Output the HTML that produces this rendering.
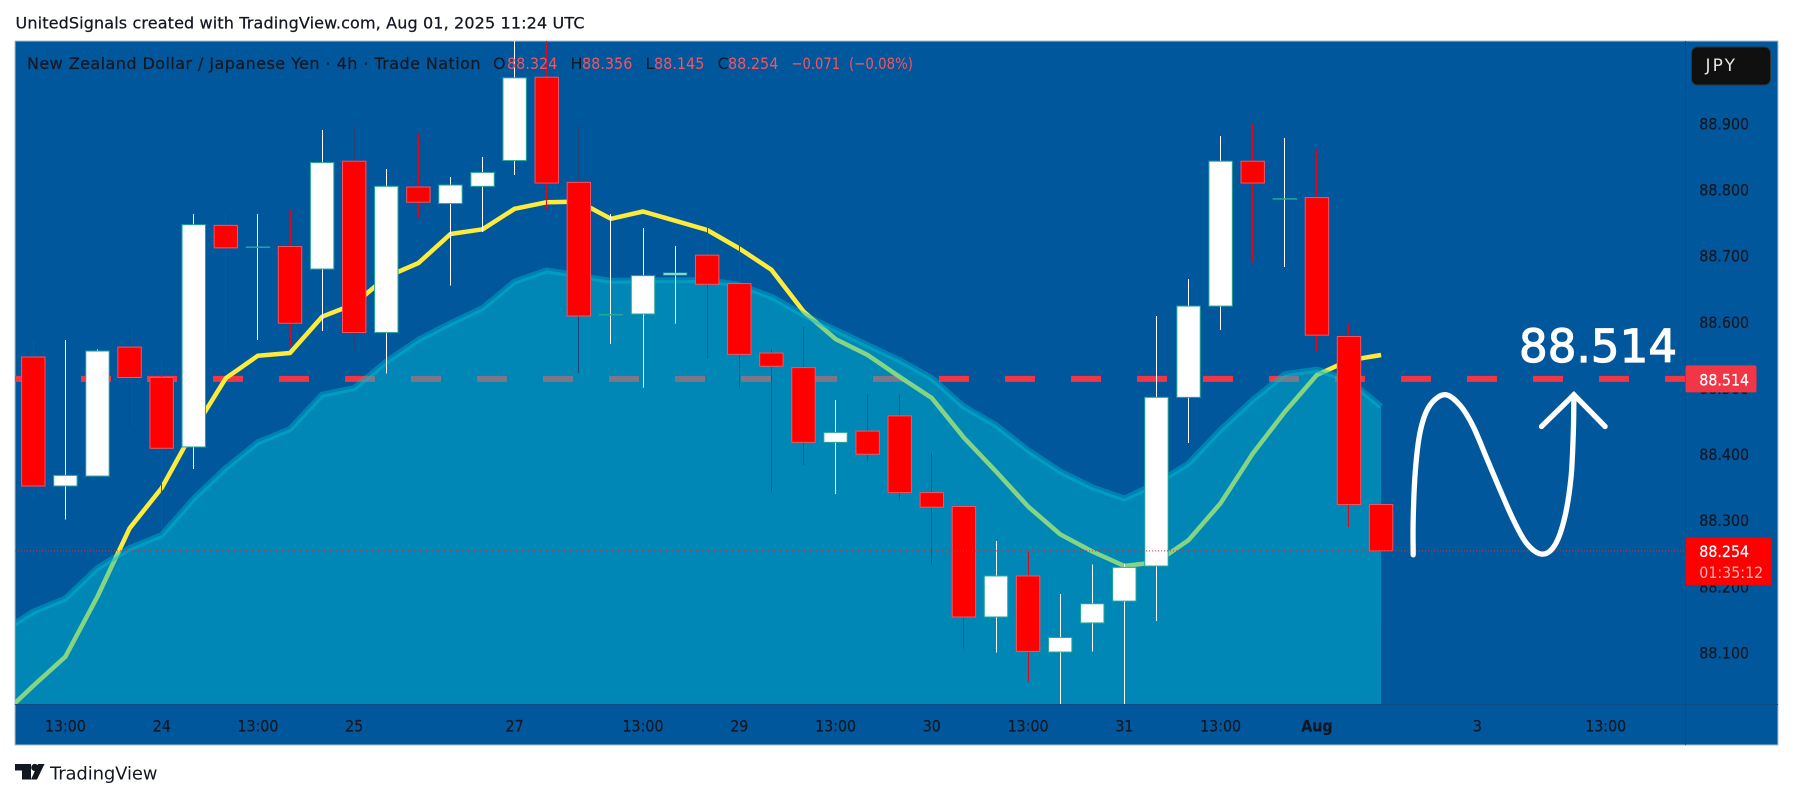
<!DOCTYPE html>
<html lang="en">
<head>
<meta charset="utf-8">
<title>NZD/JPY 4h chart</title>
<style>
html,body{margin:0;padding:0;background:#fff;width:1793px;height:799px;overflow:hidden}
svg{display:block}
text{font-family:"DejaVu Sans","Liberation Sans",sans-serif}
</style>
</head>
<body>
<svg id="chart" width="1793" height="799" viewBox="0 0 1793 799" xmlns="http://www.w3.org/2000/svg">
  <defs>
    <clipPath id="paneClip"><rect x="15" y="41" width="1670.5" height="663"/></clipPath>
  </defs>
  <rect x="0" y="0" width="1793" height="799" fill="#ffffff"/>
  <text x="15.5" y="28.5" font-size="16" fill="#131722" stroke="#131722" stroke-width="0.25" textLength="569" lengthAdjust="spacing">UnitedSignals created with TradingView.com, Aug 01, 2025 11:24 UTC</text>
  <rect x="15" y="41" width="1763" height="704" fill="#01579b" stroke="#aebfd2" stroke-width="1"/>
  <g id="priceLineLayer" clip-path="url(#paneClip)"></g>
  <g id="maLayer" clip-path="url(#paneClip)"></g>
  <g id="areaLayer" clip-path="url(#paneClip)"></g>
  <g id="candleLayer" clip-path="url(#paneClip)"></g>
  <g id="lastLineLayer" clip-path="url(#paneClip)"></g>
  <g id="drawingLayer" clip-path="url(#paneClip)"></g>
  <text id="targetText" x="1519" y="362" font-size="45" fill="#ffffff" stroke="#ffffff" stroke-width="1.2" textLength="158" lengthAdjust="spacing">88.514</text>

  <line x1="1685.5" y1="41" x2="1685.5" y2="745" stroke="#0e4a83" stroke-width="1"/>
  <line x1="15" y1="704.5" x2="1778" y2="704.5" stroke="#0e4a83" stroke-width="1"/>
  <g id="priceAxis"></g>
  <g id="timeAxis"></g>

  <g font-size="16">
    <text x="27" y="69" fill="#131722" stroke="#131722" stroke-width="0.2" textLength="453.5" lengthAdjust="spacing">New Zealand Dollar / Japanese Yen · 4h · Trade Nation</text>
    <text x="493" y="69" fill="#131722">O</text>
    <text transform="translate(507 69) scale(0.9 1)" fill="#f7525f">88.324</text>
    <text x="570.5" y="69" fill="#131722">H</text>
    <text transform="translate(582 69) scale(0.9 1)" fill="#f7525f">88.356</text>
    <text x="645.5" y="69" fill="#131722">L</text>
    <text transform="translate(654 69) scale(0.9 1)" fill="#f7525f">88.145</text>
    <text x="717.5" y="69" fill="#131722">C</text>
    <text transform="translate(728 69) scale(0.9 1)" fill="#f7525f">88.254</text>
    <text transform="translate(791.5 69) scale(0.82 1)" fill="#f7525f">−0.071</text>
    <text transform="translate(849 69) scale(0.835 1)" fill="#f7525f">(−0.08%)</text>
  </g>

  <g>
    <rect x="1691.5" y="47" width="79" height="38" rx="6" ry="6" fill="#101010" stroke="#2f3540" stroke-width="1"/>
    <text x="1705.5" y="71" font-size="17" fill="#e4e4e4" textLength="29.5" lengthAdjust="spacing">JPY</text>
  </g>

  <g id="priceTags"></g>

  <g>
    <path d="M15 764H31V779.5H22V770.5H15Z" fill="#131722"/>
    <circle cx="34.8" cy="767.5" r="3.6" fill="#131722"/>
    <path d="M38 764H44.5L37 779.5H31Z" fill="#131722"/>
    <text x="50" y="779.5" font-size="18" fill="#131722" textLength="107.5" lengthAdjust="spacing">TradingView</text>
  </g>
</svg>
<script>
// ---- Series data (prices) ----
const candleOpen  = [88.547,88.352,88.367,88.562,88.516,88.411,88.746,88.713,88.714,88.680,88.843,88.584,88.804,88.779,88.805,88.844,88.970,88.811,88.611,88.612,88.671,88.701,88.658,88.553,88.531,88.418,88.435,88.458,88.342,88.321,88.154,88.216,88.101,88.145,88.178,88.231,88.486,88.624,88.843,88.786,88.788,88.578,88.324];
const candleHigh  = [88.571,88.573,88.558,88.591,88.542,88.763,88.764,88.763,88.770,88.890,88.896,88.831,88.884,88.819,88.849,89.050,89.050,88.898,88.763,88.742,88.715,88.753,88.736,88.559,88.592,88.482,88.492,88.490,88.402,88.322,88.269,88.253,88.189,88.233,88.235,88.609,88.665,88.881,88.900,88.878,88.860,88.597,88.356];
const candleLow   = [88.332,88.301,88.367,88.442,88.287,88.378,88.557,88.573,88.563,88.586,88.558,88.522,88.759,88.655,88.736,88.822,88.770,88.523,88.567,88.501,88.598,88.544,88.501,88.344,88.384,88.340,88.388,88.330,88.233,88.106,88.100,88.056,88.000,88.102,88.000,88.148,88.417,88.588,88.690,88.683,88.555,88.290,88.145];
const candleClose = [88.352,88.368,88.556,88.516,88.409,88.747,88.712,88.713,88.598,88.841,88.584,88.805,88.781,88.807,88.826,88.969,88.810,88.609,88.611,88.670,88.674,88.657,88.551,88.533,88.418,88.433,88.400,88.342,88.320,88.154,88.216,88.102,88.123,88.174,88.229,88.486,88.624,88.843,88.810,88.786,88.580,88.324,88.254];
// Moving average and area edge start one bar before the first candle (bar -1).
const maValues   = [88.004,88.050,88.094,88.185,88.288,88.349,88.437,88.515,88.549,88.553,88.608,88.627,88.668,88.689,88.733,88.740,88.771,88.781,88.782,88.756,88.767,88.753,88.739,88.711,88.679,88.616,88.574,88.550,88.517,88.485,88.425,88.374,88.321,88.279,88.253,88.231,88.237,88.270,88.326,88.401,88.464,88.520,88.542,88.550];
const areaValues = [88.131,88.162,88.182,88.228,88.258,88.278,88.333,88.379,88.418,88.438,88.490,88.500,88.540,88.573,88.598,88.621,88.661,88.678,88.670,88.662,88.663,88.663,88.663,88.656,88.638,88.611,88.588,88.565,88.542,88.515,88.472,88.444,88.406,88.374,88.350,88.333,88.356,88.386,88.437,88.482,88.521,88.528,88.512,88.472];
const firstLineBar = -1;
// Hand-drawn projection anchors: bar position and price.
const curveBars   = [43.00,43.00,43.07,43.23,43.52,43.99,44.46,44.87,45.29,45.71,46.12,46.54,47.01,47.42,47.73,47.92,47.99,48.01];
const curvePrices = [88.248,88.301,88.376,88.437,88.474,88.490,88.474,88.442,88.394,88.346,88.301,88.265,88.249,88.263,88.306,88.366,88.432,88.490];
const arrowBars   = [47.00,48.01,48.98];
const arrowPrices = [88.442,88.490,88.442];
// Axis data.
const priceTicks  = [88.9,88.8,88.7,88.6,88.5,88.4,88.3,88.2,88.1];
const timeBars    = [1,4,7,10,15,19,22,25,28,31,34,37,40,45,49];
const timeLabels  = ['13:00','24','13:00','25','27','13:00','29','13:00','30','13:00','31','13:00','Aug','3','13:00'];
const targetPrice = 88.514;
const lastPrice   = 88.254;
const countdown   = '01:35:12';
// Bars whose thin wick nearly vanishes in the reference capture.
const dimWickBars = [3,10,17];

// ---- Axis functions ----
function xOf(bar){ return 33.3 + bar * 32.09; }
function yOf(price){ return 123.5 + (88.9 - price) * 661.5; }

const NS = 'http://www.w3.org/2000/svg';
function make(tag, attrs, parent){
  const el = document.createElementNS(NS, tag);
  for (const k in attrs) el.setAttribute(k, attrs[k]);
  parent.appendChild(el);
  return el;
}
function layer(id){ return document.getElementById(id); }
function squeezed(x, y){ return 'translate(' + x.toFixed(1) + ' ' + y.toFixed(1) + ') scale(0.89 1)'; }
function lineThrough(values){
  return values.map(function(v,i){ return (i ? 'L' : 'M') + xOf(i + firstLineBar).toFixed(1) + ' ' + yOf(v).toFixed(1); }).join(' ');
}

// ---- Target price dashed line (under the area) ----
const targetLine = make('line', {x1:15, x2:1685.5, y1:yOf(targetPrice), y2:yOf(targetPrice), stroke:'#f23645', 'stroke-width':6, 'stroke-dasharray':'30 36'}, layer('priceLineLayer'));



// ---- Moving average ----
const maLine = make('path', {d:lineThrough(maValues), fill:'none', stroke:'#ffeb3b', 'stroke-width':4.5, 'stroke-linejoin':'round'}, layer('maLayer'));



// ---- Area ----
const lastAreaBar = firstLineBar + areaValues.length - 1;
const areaFill = make('path', {d:lineThrough(areaValues) + ' L' + xOf(lastAreaBar).toFixed(1) + ' 704 L' + xOf(firstLineBar).toFixed(1) + ' 704 Z', fill:'#00bcd4', 'fill-opacity':0.48}, layer('areaLayer'));


const areaEdge = make('path', {d:lineThrough(areaValues), fill:'none', stroke:'#00bcd4', 'stroke-opacity':0.42, 'stroke-width':6, 'stroke-linejoin':'round'}, layer('areaLayer'));



// ---- Candles ----
candleOpen.forEach(function(open, i){
  const close = candleClose[i], high = candleHigh[i], low = candleLow[i];
  const up = close >= open;
  const doji = Math.abs(close - open) < 0.0005;
  const cx = xOf(i);
  const g = make('g', {}, layer('candleLayer'));
  
  
  const wickX = Math.floor(cx);
  const dim = dimWickBars.indexOf(i) >= 0;
  const wickColor = up ? '#ffffff' : (dim ? '#1d4678' : '#dc0a1e');
  const wick = make('rect', {x:wickX, y:yOf(high), width:1, height:yOf(low) - yOf(high), fill:wickColor, 'shape-rendering':'crispEdges'}, g);
  
  
  const top = yOf(Math.max(open, close)), bottom = yOf(Math.min(open, close));
  let body;
  if (doji) {
    body = make('rect', {x:cx - 12.2, y:top - 0.75, width:24.4, height:1.5, fill:'#26a69a'}, g);
  } else {
    body = make('rect', {x:cx - 11.7, y:top, width:23.4, height:bottom - top, fill:up ? '#ffffff' : '#ff0000', stroke:up ? '#26a69a' : '#f7525f', 'stroke-width':1}, g);
  }
  
  
});

// ---- Last price dotted line ----
const lastLine = make('line', {x1:15, x2:1685.5, y1:yOf(lastPrice), y2:yOf(lastPrice), stroke:'#ff2020', 'stroke-width':1, 'stroke-dasharray':'1 2'}, layer('lastLineLayer'));



// ---- Hand-drawn curve and arrow ----
function smoothPath(bars, prices){
  const p = bars.map(function(b,i){ return [xOf(b), yOf(prices[i])]; });
  let d = 'M' + p[0][0].toFixed(1) + ' ' + p[0][1].toFixed(1);
  for (let i = 0; i < p.length - 1; i++) {
    const a = p[Math.max(i - 1, 0)], b = p[i], c = p[i + 1], e = p[Math.min(i + 2, p.length - 1)];
    d += ' C' + (b[0] + (c[0] - a[0]) / 6).toFixed(1) + ' ' + (b[1] + (c[1] - a[1]) / 6).toFixed(1) + ' ' +
         (c[0] - (e[0] - b[0]) / 6).toFixed(1) + ' ' + (c[1] - (e[1] - b[1]) / 6).toFixed(1) + ' ' +
         c[0].toFixed(1) + ' ' + c[1].toFixed(1);
  }
  return d;
}
const curve = make('path', {d:smoothPath(curveBars, curvePrices), fill:'none', stroke:'#ffffff', 'stroke-width':5.3, 'stroke-linecap':'round', 'stroke-linejoin':'round'}, layer('drawingLayer'));


const arrowPoints = arrowBars.map(function(b,i){ return xOf(b).toFixed(1) + ',' + yOf(arrowPrices[i]).toFixed(1); }).join(' ');
const arrow = make('polyline', {points:arrowPoints, fill:'none', stroke:'#ffffff', 'stroke-width':5.3, 'stroke-linecap':'round', 'stroke-linejoin':'miter'}, layer('drawingLayer'));



// ---- Price axis ----
priceTicks.forEach(function(price){
  const t = make('text', {transform:squeezed(1699.3, yOf(price) + 5.8), 'font-size':16, fill:'#131722', stroke:'#131722', 'stroke-width':0.2}, layer('priceAxis'));
  t.textContent = price.toFixed(3);
  
  
});

// ---- Time axis ----
timeBars.forEach(function(bar, i){
  const t = make('text', {transform:squeezed(xOf(bar), 731.5), 'font-size':16, fill:'#131722', stroke:'#131722', 'stroke-width':0.2, 'text-anchor':'middle', 'font-weight':timeLabels[i] === 'Aug' ? 'bold' : 'normal'}, layer('timeAxis'));
  t.textContent = timeLabels[i];
  
  
});

// ---- Price tags ----
const targetTag = make('rect', {x:1685.5, y:yOf(targetPrice) - 13.5, width:71, height:27, rx:2, fill:'#f23645'}, layer('priceTags'));


const targetTagText = make('text', {transform:squeezed(1699.3, yOf(targetPrice) + 6.8), 'font-size':16, fill:'#ffffff', stroke:'#ffffff', 'stroke-width':0.2}, layer('priceTags'));
targetTagText.textContent = targetPrice.toFixed(3);


const lastTag = make('rect', {x:1685.5, y:yOf(lastPrice) - 13.5, width:86, height:48, rx:2, fill:'#ff0000'}, layer('priceTags'));


const lastTagText = make('text', {transform:squeezed(1699.3, yOf(lastPrice) + 6), 'font-size':16, fill:'#ffffff', stroke:'#ffffff', 'stroke-width':0.2}, layer('priceTags'));
lastTagText.textContent = lastPrice.toFixed(3);


const countdownText = make('text', {transform:squeezed(1699.3, yOf(lastPrice) + 27), 'font-size':16, fill:'#ffb3b3'}, layer('priceTags'));
countdownText.textContent = countdown;


</script>
</body>
</html>
